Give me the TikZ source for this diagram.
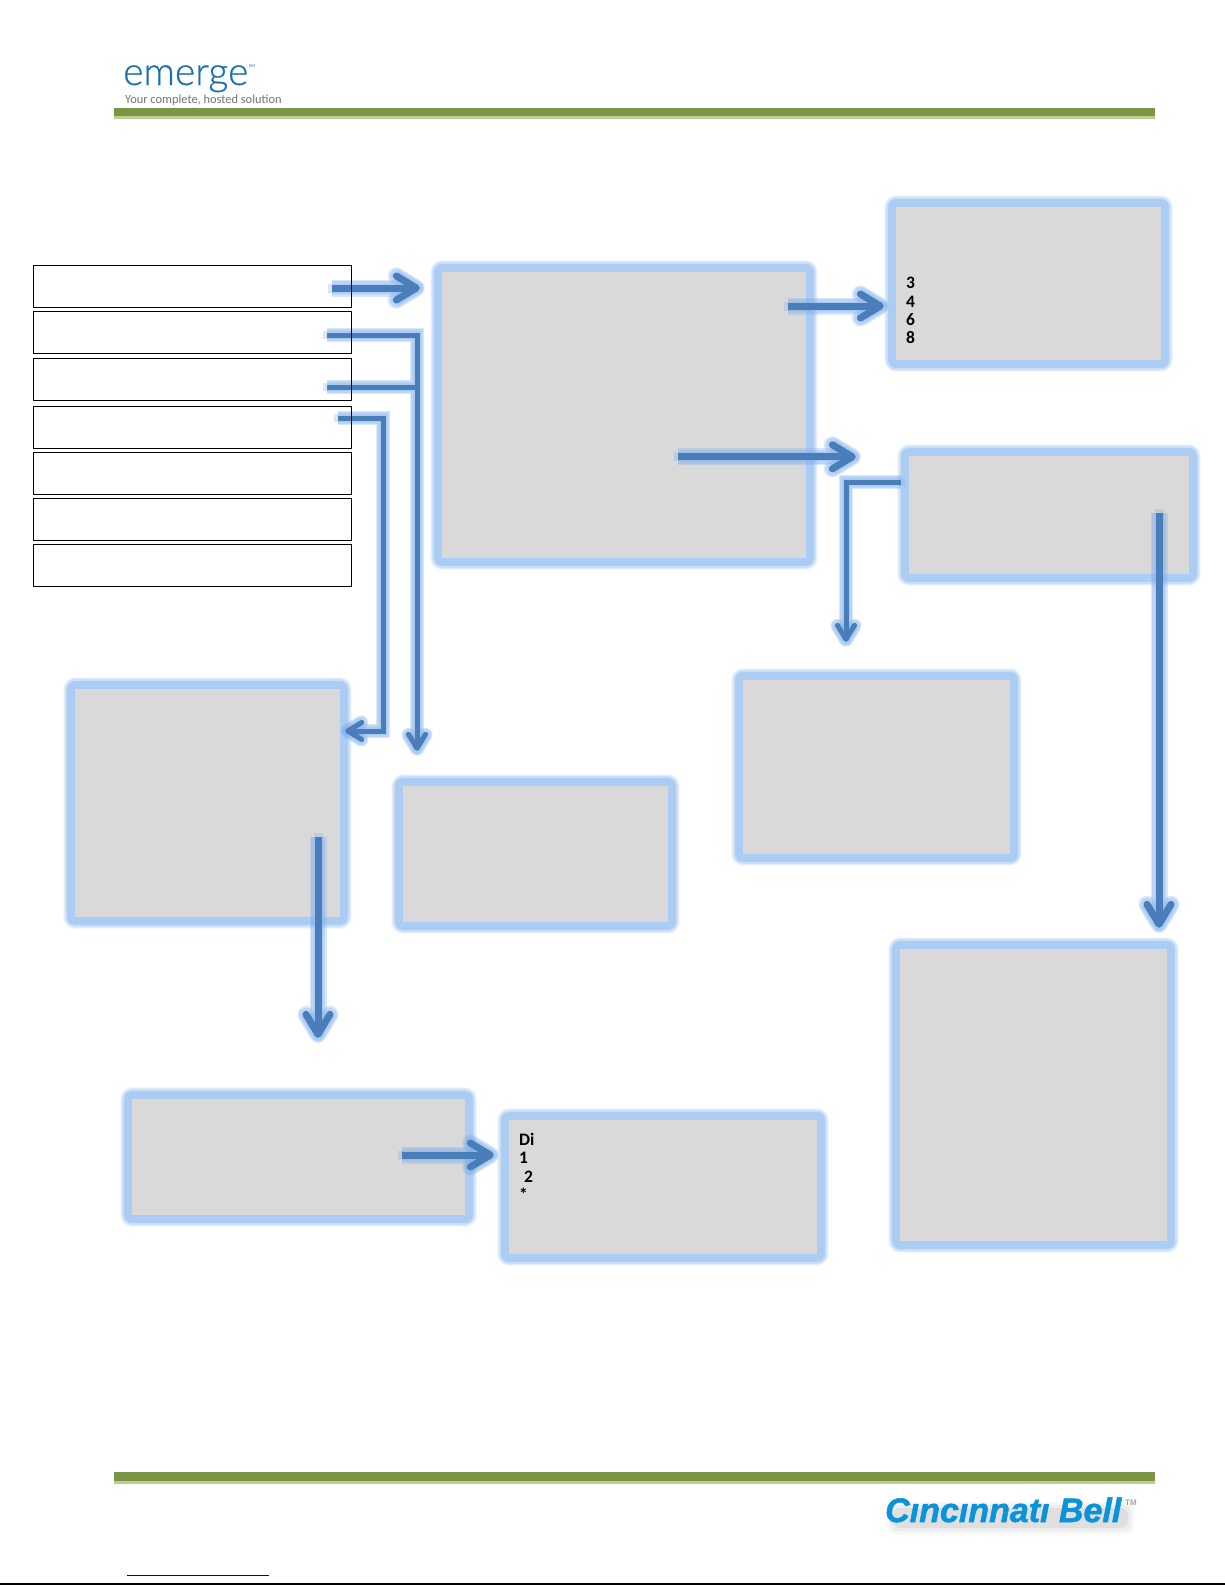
\documentclass[tikz,border=0pt]{standalone}
\usepackage{fontspec}
\usetikzlibrary{arrows.meta,backgrounds}
\setmainfont{Carlito}
\newfontfamily\logofont[UprightFont=* Light,UprightFeatures={FakeBold=.6}]{Lato}
\newfontfamily\bellfont[BoldItalicFeatures={FakeBold=1.5}]{Liberation Sans}
\definecolor{barDark}{HTML}{7A9645}
\definecolor{barLight}{HTML}{BACF8F}
\definecolor{flowBlue}{HTML}{4A7EBB}
\definecolor{flowHalo}{HTML}{7FAEEA}
\definecolor{boxGrey}{HTML}{D9D9D9}
\definecolor{logoBlue}{HTML}{1B6FAF}
\definecolor{bellBlue}{HTML}{0B93D9}
\definecolor{linkBlue}{HTML}{0000C0}
\definecolor{haloA}{HTML}{F3F8FE}
\definecolor{haloB}{HTML}{E2EDFB}
\definecolor{haloC}{HTML}{CBDFF8}
\definecolor{haloD}{HTML}{ABCDF3}
\tikzset{
	wide/.style={draw=flowBlue,line width=7pt,shorten >=#1,-{Straight Barb[round,length=20pt,width=24pt]},
		preaction={draw=flowHalo,draw opacity=.3,line width=17pt,shorten >=#1-5pt},
		preaction={draw=flowHalo,draw opacity=.3,line width=14pt,shorten >=#1-4pt},
		preaction={draw=flowHalo,draw opacity=.3,line width=9pt,line cap=rect,shorten >=#1-3pt}},
	slim/.style={draw=flowBlue,line width=5pt,shorten >=#1,-{Straight Barb[round,length=14pt,width=17pt]},
		preaction={draw=flowHalo,draw opacity=.3,line width=14pt,shorten >=#1-5pt},
		preaction={draw=flowHalo,draw opacity=.3,line width=12pt,shorten >=#1-4pt},
		preaction={draw=flowHalo,draw opacity=.3,line width=8pt,line cap=rect,shorten >=#1-3pt}}
}
\begin{document}
\begin{tikzpicture}[x=1pt,y=-1pt,line join=round]
	\tikzstyle{entry}=[draw=black,line width=1pt,inner sep=0pt,minimum width=318pt,minimum height=42pt]
	\tikzstyle{panel}=[fill=boxGrey,inner sep=0pt,line join=round,
		preaction={draw=haloA,line width=24pt},preaction={draw=haloB,line width=22pt},
		preaction={draw=haloC,line width=19.5pt},preaction={draw=haloD,line width=16pt}]
	\tikzstyle{keys}=[inner sep=0pt,anchor=north west,align=left,font=\fontsize{17.5}{18.4}\selectfont\bfseries]
	\useasboundingbox (0,0) rectangle (1225,1585);

	% list on the left
	\node[entry](e1) at (192.5,286.5){};
	\node[entry](e2) at (192.5,332.5){};
	\node[entry](e3) at (192.5,379.5){};
	\node[entry](e4) at (192.5,427.5){};
	\node[entry](e5) at (192.5,473.5){};
	\node[entry](e6) at (192.5,519){};
	\node[entry](e7) at (192.5,565){};

	% header and footer
	\fill[barDark] (114,108) rectangle (1155,116);
	\fill[barLight] (114,116) rectangle (1155,119);
	\fill[barDark] (114,1472) rectangle (1155,1481);
	\fill[barLight] (114,1481) rectangle (1155,1484);
	\node[inner sep=0pt,anchor=base west,text=logoBlue,font=\logofont\fontsize{39}{39}\selectfont](logo) at (123,85){emerge};
	\node[inner sep=0pt,anchor=base west,text=logoBlue,font=\fontsize{4.5}{5}\selectfont](sm) at (249,67){SM};
	\node[inner sep=0pt,anchor=base west,text=black!55,font=\fontsize{12.4}{14}\selectfont](tagline) at (125,103){Your complete, hosted solution};
	\foreach \s/\o in {8/.03,5/.04,2/.06}
		\fill[black,opacity=\o,rounded corners=7pt] (895-\s,1510-\s) rectangle (1126+\s,1526+\s);
	\node[inner sep=0pt,anchor=base west,text=bellBlue,font=\bellfont\fontsize{34}{34}\selectfont\bfseries\itshape](bell) at (885,1522){C\i nc\i nnat\i{} Bell};
	\node[inner sep=0pt,anchor=base west,text=black!35,font=\bellfont\fontsize{8}{8}\selectfont\bfseries](tm) at (1125,1505){TM};
	\draw[linkBlue,line width=1pt] (127,1575) -- (269,1575);
	\draw[black,line width=1.5pt] (0,1584) -- (1225,1584);

	\begin{pgfonlayer}{background}
		\node[panel,minimum width=364pt,minimum height=286pt](main) at (624,415){};
		\node[panel,minimum width=265pt,minimum height=153pt](rates) at (1028.5,283.5){};
		\node[panel,minimum width=280pt,minimum height=118pt](route) at (1049,515){};
		\node[panel,minimum width=267pt,minimum height=174pt](mid) at (876.5,767){};
		\node[panel,minimum width=265pt,minimum height=228pt](side) at (207.5,803){};
		\node[panel,minimum width=265pt,minimum height=136pt](centre) at (535.5,854){};
		\node[panel,minimum width=333pt,minimum height=116pt](lower) at (298.5,1157){};
		\node[panel,minimum width=308pt,minimum height=134pt](dial) at (663,1187){};
		\node[panel,minimum width=267pt,minimum height=292pt](big) at (1033.5,1095){};
		\coordinate (turn) at (383,731);

		\draw[wide=22pt,shorten <=-20pt] ([yshift=-1.5pt]e1.east) -- ([yshift=-1.5pt]e1.east -| main.west);
		\draw[wide=12pt,shorten <=-18pt] ([yshift=-22.5pt]rates.west -| main.east) -- ([yshift=-22.5pt]rates.west);
		\draw[wide=53pt,shorten <=-128pt] ([yshift=-1pt]route.north west -| main.east) -- ([yshift=-1pt]route.north west);
		\draw[slim=38pt,shorten <=8pt] ([yshift=33pt]route.west) -| ([xshift=-30.5pt]mid.north);
		\draw[wide=21pt,shorten <=-61pt] ([xshift=110pt]route.south) -- ([xshift=125.5pt]big.north);
		\draw[wide=61pt,shorten <=-80pt] ([xshift=110.5pt]side.south) -- ([xshift=19.5pt]lower.north);
		\draw[wide=15pt,shorten <=-63pt] ([yshift=2pt]lower.east) -- ([yshift=2pt]lower.east -| dial.west);
		\draw[slim=35pt] ([xshift=-25.5pt,yshift=-7.5pt]e3.east) -- ([xshift=14pt,yshift=-7.5pt]e3.east -| centre.north west)
			([xshift=-25.5pt,yshift=-2.5pt]e2.east) -| ([xshift=-118.5pt]centre.north);
		\draw[slim=5pt,shorten <=-14pt] ([yshift=9.5pt]e4.east) -| (turn) -- ([yshift=72pt]side.east);
	\end{pgfonlayer}

	% keys
	\node[keys](k1) at (906,277){3\\4\\6\\8};
	\node[keys](k2) at (519,1133){Di\\1\\\hspace{5pt}2\\*};
\end{tikzpicture}
\end{document}
